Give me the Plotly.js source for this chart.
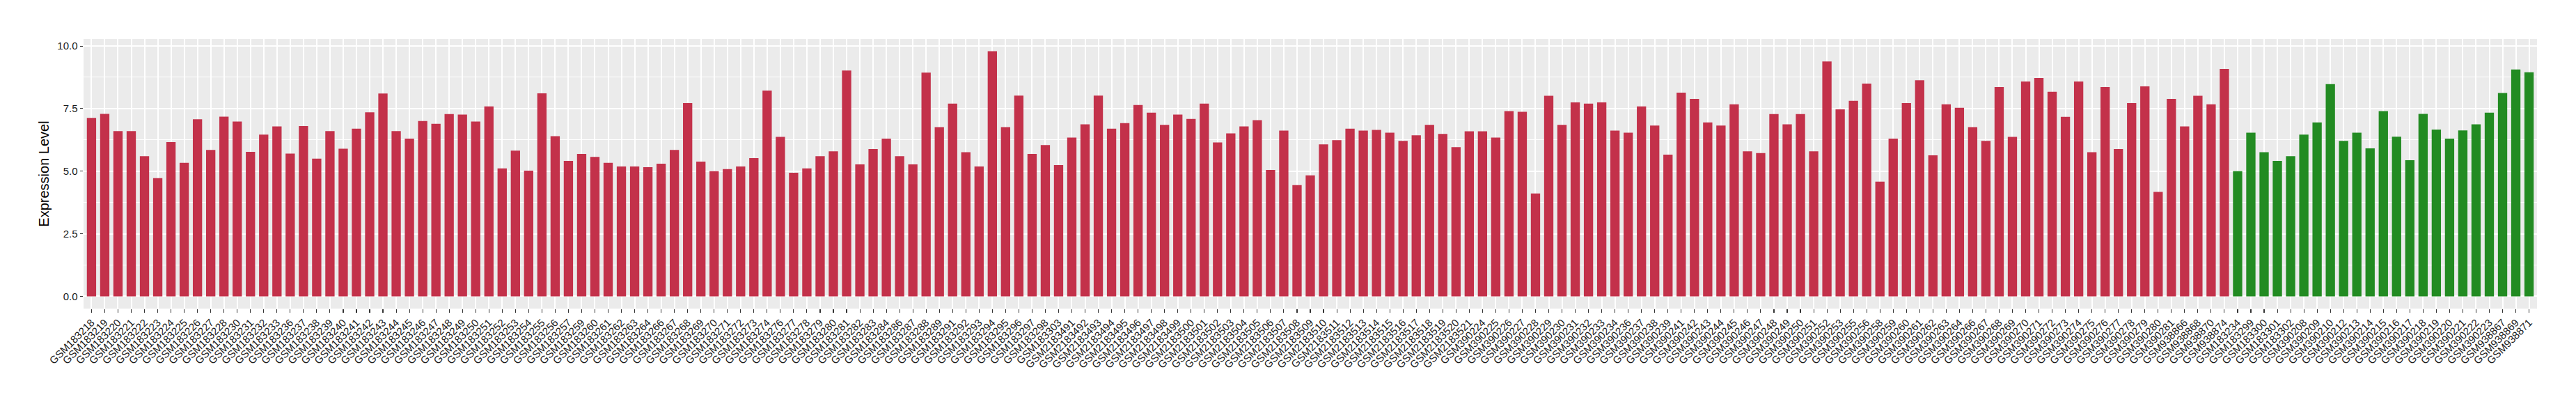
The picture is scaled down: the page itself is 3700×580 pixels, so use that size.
<!DOCTYPE html>
<html>
<head>
<meta charset="utf-8">
<script src="https://cdn.plot.ly/plotly-3.0.1.min.js"></script>
<style>html,body{margin:0;padding:0;background:#fff;}#chart{width:3700px;height:580px;}</style>
</head>
<body>
<div id="chart"></div>
<script>
const redSamples = [
"GSM183218","GSM183219","GSM183220","GSM183221","GSM183222","GSM183223","GSM183224","GSM183225","GSM183226","GSM183227","GSM183228",
"GSM183230","GSM183231","GSM183232","GSM183233",
"GSM183236","GSM183237","GSM183238","GSM183239","GSM183240","GSM183241","GSM183242","GSM183243","GSM183244","GSM183245","GSM183246",
"GSM183247","GSM183248","GSM183249","GSM183250","GSM183251","GSM183252","GSM183253","GSM183254","GSM183255","GSM183256","GSM183257",
"GSM183259","GSM183260","GSM183261","GSM183262","GSM183263","GSM183264",
"GSM183266","GSM183267","GSM183268","GSM183269","GSM183270","GSM183271","GSM183272","GSM183273","GSM183274",
"GSM183276","GSM183277","GSM183278","GSM183279","GSM183280","GSM183281","GSM183282","GSM183283","GSM183284",
"GSM183286","GSM183287","GSM183288","GSM183289",
"GSM183291","GSM183292","GSM183293","GSM183294","GSM183295","GSM183296","GSM183297","GSM183298",
"GSM183303",
"GSM2183491","GSM2183492","GSM2183493","GSM2183494","GSM2183495","GSM2183496","GSM2183497","GSM2183498","GSM2183499","GSM2183500",
"GSM2183501","GSM2183502","GSM2183503","GSM2183504","GSM2183505","GSM2183506","GSM2183507","GSM2183508","GSM2183509","GSM2183510",
"GSM2183511","GSM2183512","GSM2183513","GSM2183514","GSM2183515","GSM2183516","GSM2183517","GSM2183518","GSM2183519","GSM2183520","GSM2183521",
"GSM390224","GSM390225","GSM390226","GSM390227","GSM390228","GSM390229","GSM390230","GSM390231","GSM390232","GSM390233","GSM390234",
"GSM390236","GSM390237","GSM390238","GSM390239",
"GSM390241","GSM390242","GSM390243","GSM390244","GSM390245","GSM390246","GSM390247","GSM390248","GSM390249","GSM390250","GSM390251","GSM390252","GSM390253",
"GSM390255","GSM390256",
"GSM390258","GSM390259","GSM390260","GSM390261","GSM390262","GSM390263","GSM390264",
"GSM390266","GSM390267","GSM390268","GSM390269","GSM390270","GSM390271","GSM390272","GSM390273","GSM390274","GSM390275","GSM390276","GSM390277","GSM390278","GSM390279","GSM390280","GSM390281",
"GSM938866","GSM938868","GSM938870","GSM938874"
];
const redValues = [
7.13,7.29,6.60,6.60,5.60,4.72,6.16,5.33,7.07,5.85,7.18,
6.98,5.77,6.46,6.79,
5.70,6.80,5.50,6.60,5.90,6.70,7.35,8.10,6.60,6.30,7.00,
6.89,7.28,7.26,6.98,7.59,5.11,5.82,5.02,8.11,6.40,5.41,
5.69,5.57,5.33,5.19,5.19,5.16,
5.30,5.85,7.72,5.38,5.00,5.08,5.19,5.52,8.22,
6.37,4.94,5.11,5.60,5.79,9.02,5.27,5.88,6.30,
5.60,5.27,8.94,6.76,
7.70,5.76,5.19,9.79,6.76,8.02,5.69,6.04,
5.24,
6.34,6.87,8.02,6.70,6.92,7.64,7.34,6.85,7.26,7.09,
7.70,6.15,6.51,6.79,7.04,5.05,6.62,4.44,4.83,6.07,
6.24,6.70,6.62,6.65,6.54,6.21,6.43,6.85,6.49,5.96,6.59,
6.59,6.34,7.40,7.37,4.11,8.01,6.85,7.75,7.70,7.75,6.62,
6.54,7.59,6.82,5.66,
8.14,7.89,6.95,6.82,7.67,5.79,5.72,7.28,6.87,7.28,5.79,9.38,7.47,
7.81,8.50,
4.58,6.30,7.72,8.63,5.63,7.67,7.53,
6.76,6.21,8.36,6.37,8.58,8.72,8.17,7.17,8.58,5.76,8.36,5.88,7.72,8.39,4.17,7.89,
6.79,8.01,7.67,9.08
];
const greenSamples = [
"GSM183234","GSM183299","GSM183300","GSM183301","GSM183302",
"GSM390208","GSM390209","GSM390210","GSM390212","GSM390213","GSM390214","GSM390215","GSM390216","GSM390217","GSM390218",
"GSM390219","GSM390220","GSM390221","GSM390222","GSM390223",
"GSM938867","GSM938869","GSM938871"
];
const greenValues = [
5.00,6.54,5.76,5.41,5.60,
6.46,6.95,8.48,6.21,6.54,5.91,7.40,6.38,5.44,7.29,
6.66,6.30,6.63,6.87,7.34,
8.12,9.06,8.95
];
const yTickVals = [0, 2.5, 5, 7.5, 10];
const yTickText = ["0.0", "2.5", "5.0", "7.5", "10.0"];
const yMinorVals = [1.25, 3.75, 6.25, 8.75];

const allSamples = redSamples.concat(greenSamples);
const FONT = "Liberation Sans, Arial, Helvetica, sans-serif";

const traces = [
  {type: "bar", x: redSamples, y: redValues, width: 0.7, marker: {color: "#C3314A", line: {width: 0}}, hoverinfo: "x+y"},
  {type: "bar", x: greenSamples, y: greenValues, width: 0.7, marker: {color: "#228B22", line: {width: 0}}, hoverinfo: "x+y"}
];

const layout = {
  width: 3700, height: 580,
  margin: {l: 120, r: 56, t: 56, b: 137, pad: 0},
  paper_bgcolor: "#FFFFFF",
  plot_bgcolor: "#EBEBEB",
  showlegend: false,
  barmode: "overlay",
  font: {family: FONT, color: "#000000"},
  xaxis: {
    type: "category",
    categoryorder: "array",
    categoryarray: allSamples,
    range: [-0.6, allSamples.length - 0.4],
    tickangle: -45,
    tickfont: {family: FONT, size: 15, color: "#1A1A1A"},
    ticks: "outside", ticklen: 4.5, tickwidth: 1.1, tickcolor: "#333333",
    showgrid: true, gridcolor: "#FFFFFF", gridwidth: 2,
    zeroline: false, showline: false,
    automargin: false
  },
  yaxis: {
    range: [-0.49, 10.28],
    tickmode: "array",
    tickvals: yTickVals,
    ticktext: yTickText,
    tickfont: {family: FONT, size: 15, color: "#1A1A1A"},
    ticks: "outside", ticklen: 4.5, tickwidth: 1.1, tickcolor: "#333333",
    showgrid: true, gridcolor: "#FFFFFF", gridwidth: 2,
    minor: {tickmode: "array", tickvals: yMinorVals, showgrid: true, gridcolor: "#FFFFFF", gridwidth: 1, ticks: ""},
    zeroline: false, showline: false,
    automargin: false,
    title: {text: "Expression Level", font: {family: FONT, size: 20, color: "#000000"}, standoff: 6}
  }
};

Plotly.newPlot("chart", traces, layout, {displayModeBar: false, staticPlot: true});
</script>
</body>
</html>
